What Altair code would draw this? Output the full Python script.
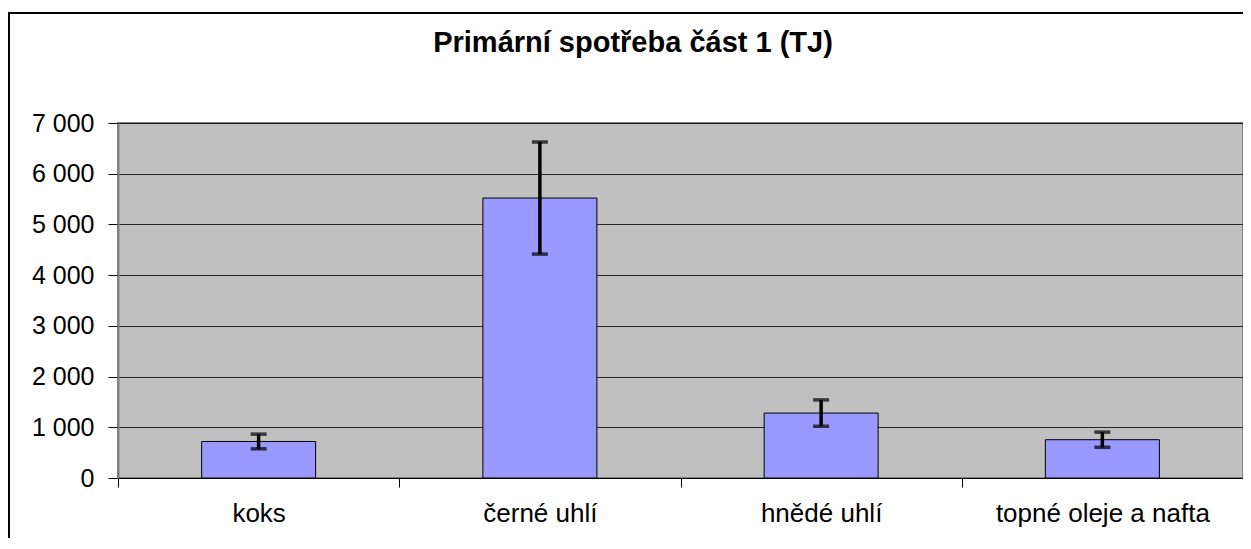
import altair as alt
import pandas as pd

title_text = "Primární spotřeba část 1 (TJ)"
categories = ["koks", "černé uhlí", "hnědé uhlí", "topné oleje a nafta"]
values = [720, 5520, 1280, 755]
errors = [145, 1105, 260, 150]

df = pd.DataFrame({"cat": categories, "val": values, "err": errors})
df["lo"] = df["val"] - df["err"]
df["hi"] = df["val"] + df["err"]

FONT = "Liberation Sans"

x_enc = alt.X("cat:N", sort=categories, title=None,
              scale=alt.Scale(paddingInner=0, paddingOuter=0),
              axis=alt.Axis(labelAngle=0, labelFont=FONT, labelFontSize=26,
                            labelColor="black", tickBand="extent", tickSize=9,
                            tickColor="black", domainColor="black",
                            labelPadding=13, labelLimit=0, grid=False))

y_scale = alt.Scale(domain=[0, 7000], nice=False)

bars = alt.Chart(df).mark_bar(size=114, color="#9999FF", stroke="black",
                              strokeWidth=1).encode(
    x=x_enc,
    y=alt.Y("val:Q", scale=y_scale, title=None,
            axis=alt.Axis(values=[0, 1000, 2000, 3000, 4000, 5000, 6000, 7000],
                          format=",d", labelFont=FONT, labelFontSize=25,
                          labelColor="black", tickSize=10, tickColor="black",
                          domainColor="#808080", domainWidth=2,
                          gridColor="black", gridWidth=1, gridOpacity=0.8,
                          labelPadding=14)),
)

rules = alt.Chart(df).mark_rule(color="black", strokeWidth=3.5).encode(
    x=alt.X("cat:N", sort=categories),
    y=alt.Y("lo:Q", scale=y_scale),
    y2="hi:Q",
)
caps_lo = alt.Chart(df).mark_tick(color="black", size=16, thickness=3.5,
                                  orient="horizontal").encode(
    x=alt.X("cat:N", sort=categories),
    y=alt.Y("lo:Q", scale=y_scale),
)
caps_hi = alt.Chart(df).mark_tick(color="black", size=16, thickness=3.5,
                                  orient="horizontal").encode(
    x=alt.X("cat:N", sort=categories),
    y=alt.Y("hi:Q", scale=y_scale),
)

frame = alt.Chart(df).mark_rect(fill=None, stroke="black", strokeWidth=2,
                                clip=False).encode(
    x=alt.value(-109), y=alt.value(-110), x2=alt.value(1135), y2=alt.value(430)
)

title = alt.Chart(pd.DataFrame({"t": [title_text]})).mark_text(
    font=FONT, fontSize=29, fontWeight="bold", color="black",
    align="center", baseline="alphabetic", clip=False
).encode(text="t:N", x=alt.value(515), y=alt.value(-71))

chart = alt.layer(frame, bars, rules, caps_lo, caps_hi, title).properties(
    width=1125, height=355,
    padding={"left": 110, "top": 115, "right": 0, "bottom": 60},
    autosize=alt.AutoSizeParams(type="none"),
).configure(
    locale={"number": {"decimal": ",", "thousands": "\u00a0",
                       "grouping": [3], "currency": ["", " Kč"]}},
    view=alt.ViewConfig(fill="#C0C0C0", stroke="#808080", strokeWidth=2),
    axis=alt.AxisConfig(grid=True),
)

chart.save("out.html", embed_options={"renderer": "svg", "actions": False})
